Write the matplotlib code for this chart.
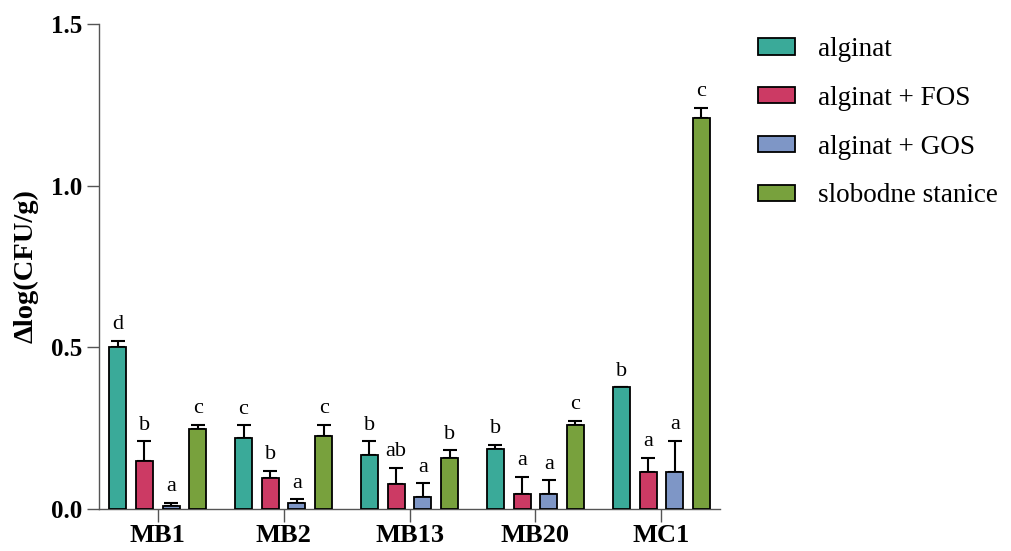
import numpy as np
import matplotlib
matplotlib.use("Agg")
import matplotlib.pyplot as plt

plt.rcParams["font.family"] = ["Liberation Serif", "DejaVu Serif"]

groups = ["MB1", "MB2", "MB13", "MB20", "MC1"]
series = ["alginat", "alginat + FOS", "alginat + GOS", "slobodne stanice"]
colors = ["#3AAA99", "#CC3A64", "#7E96C6", "#78A13D"]

alginat = [0.50, 0.22, 0.167, 0.186, 0.377]
alginat_fos = [0.149, 0.097, 0.078, 0.046, 0.116]
alginat_gos = [0.008, 0.019, 0.037, 0.046, 0.116]
slobodne = [0.246, 0.227, 0.157, 0.26, 1.21]

err_alginat = [0.02, 0.039, 0.043, 0.013, 0.0]
err_fos = [0.06, 0.021, 0.05, 0.054, 0.043]
err_gos = [0.012, 0.011, 0.043, 0.043, 0.095]
err_slobodne = [0.014, 0.033, 0.024, 0.013, 0.031]

letters_alginat = ["d", "c", "b", "b", "b"]
letters_fos = ["b", "b", "ab", "a", "a"]
letters_gos = ["a", "a", "a", "a", "a"]
letters_slobodne = ["c", "c", "b", "c", "c"]

values = [alginat, alginat_fos, alginat_gos, slobodne]
errors = [err_alginat, err_fos, err_gos, err_slobodne]
letters = [letters_alginat, letters_fos, letters_gos, letters_slobodne]

fig = plt.figure(figsize=(10.11, 5.51), dpi=100)
ax = fig.add_axes([0.0979, 0.0762, 0.6143, 0.8802])

x = np.arange(len(groups))
step = 0.212
width = 0.135
offsets = [-1.5 * step, -0.5 * step, 0.5 * step, 1.5 * step]

for i in range(4):
    xs = x + offsets[i]
    ax.bar(xs, values[i], width, color=colors[i], edgecolor="black",
           linewidth=1.3, label=series[i], zorder=3)
    ax.errorbar(xs, values[i], yerr=[np.zeros(len(groups)), errors[i]],
                fmt="none", ecolor="black", elinewidth=1.5, capsize=5,
                capthick=1.5, zorder=2)
    for xi, v, e, t in zip(xs, values[i], errors[i], letters[i]):
        ax.text(xi, v + e + 0.02, t, ha="center", va="bottom", fontsize=16)

ax.set_xlim(-0.466, 4.466)
ax.set_ylim(0, 1.5)
ax.set_yticks([0.0, 0.5, 1.0, 1.5])
ax.set_yticklabels(["0.0", "0.5", "1.0", "1.5"])
ax.set_xticks(x)
ax.set_xticklabels(groups)

for s in ["top", "right"]:
    ax.spines[s].set_visible(False)
for s in ["left", "bottom"]:
    ax.spines[s].set_color("#555555")
    ax.spines[s].set_linewidth(1.0)

ax.tick_params(axis="both", length=9, width=1.0, color="#555555")
ax.tick_params(axis="y", pad=3)
ax.tick_params(axis="x", pad=2)
for lab in ax.get_yticklabels():
    lab.set_fontweight("bold")
    lab.set_fontsize(18)
for lab in ax.get_xticklabels():
    lab.set_fontweight("bold")
    lab.set_fontsize(19)

ax.set_ylabel("\u0394log(CFU/g)", fontsize=20.5, fontweight="bold", labelpad=9)

fig.legend(loc="upper left", bbox_to_anchor=(758 / 1011, 1 - 37 / 551),
           frameon=False, fontsize=19.5, handlelength=1.37, handleheight=0.55,
           handletextpad=0.85, labelspacing=0.88, borderpad=0, borderaxespad=0)

fig.savefig("out.png", dpi=100)
